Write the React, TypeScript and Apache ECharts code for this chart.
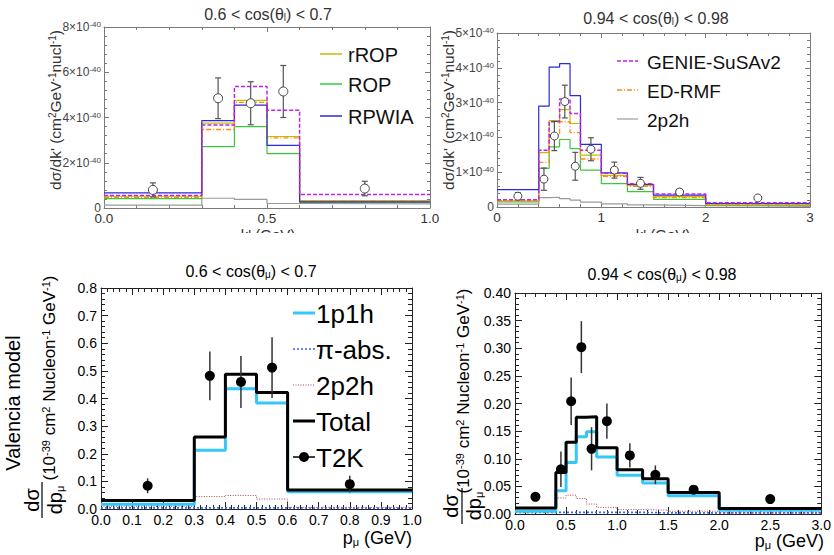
import { useEffect, useRef } from "react";
import * as echarts from "echarts";

// ---------- Top-left: 0.6 < cos(θl) < 0.7  (units of 1e-40 cm² GeV⁻¹ nucl⁻¹) ----------
const tlEdges = [0, 0.3, 0.4, 0.5, 0.6, 1.0];
const tlRROP = [0.52, 3.75, 4.76, 3.16, 0.33];
const tlROP = [0.41, 2.71, 3.6, 2.4, 0.25];
const tlRPWIA = [0.67, 3.86, 4.55, 2.77, 0.27];
const tlGENIE = [0.55, 3.67, 5.37, 4.32, 0.6];
const tlEDRMF = [0.47, 3.47, 4.67, 3.1, 0.31];
const tl2p2h = [0.13, 0.43, 0.38, 0.2, 0.18];
const tlDataX = [0.15, 0.35, 0.45, 0.55, 0.8];
const tlDataY = [0.8, 4.85, 4.63, 5.15, 0.86];
const tlDataErr = [0.31, 0.9, 0.95, 1.15, 0.32];
const tlXTicks = [0, 0.5, 1.0];
const tlYTicks = [0, 2, 4, 6, 8];

// ---------- Top-right: 0.94 < cos(θl) < 0.98 ----------
const trEdges = [0, 0.4, 0.5, 0.6, 0.7, 0.8, 1.0, 1.25, 1.5, 2.0, 3.0];
const trRPWIA = [0.5, 2.9, 4.02, 4.12, 3.2, 1.8, 0.98, 0.65, 0.34, 0.1];
const trGENIE = [0.21, 1.63, 2.45, 3.1, 2.69, 1.63, 0.97, 0.67, 0.37, 0.12];
const trRROP = [0.18, 1.56, 2.48, 2.8, 2.4, 1.49, 0.91, 0.62, 0.3, 0.08];
const trEDRMF = [0.17, 1.28, 2.07, 2.45, 2.14, 1.38, 0.88, 0.59, 0.27, 0.07];
const trROP = [0.15, 1.11, 1.73, 1.94, 1.68, 1.06, 0.67, 0.44, 0.22, 0.05];
const tr2p2h = [0.08, 0.27, 0.28, 0.24, 0.2, 0.14, 0.09, 0.06, 0.04, 0.02];
const trDataX = [0.2, 0.45, 0.55, 0.65, 0.75, 0.9, 1.125, 1.375, 1.75, 2.5];
const trDataY = [0.31, 0.8, 2.04, 3.03, 1.17, 1.66, 1.06, 0.68, 0.43, 0.26];
const trDataErr = [0.1, 0.32, 0.42, 0.47, 0.4, 0.33, 0.23, 0.17, 0.08, 0];
const trXTicks = [0, 1, 2, 3];
const trYTicks = [0, 1, 2, 3, 4, 5];

// ---------- Bottom-left: Valencia model, 0.6 < cos(θμ) < 0.7 (units 1e-39) ----------
const blEdges = [0, 0.3, 0.4, 0.5, 0.6, 1.0];
const bl1p1h = [0.017, 0.213, 0.435, 0.384, 0.062];
const blPiAbs = [0.004, 0.004, 0.004, 0.004, 0.003];
const bl2p2h = [0.01, 0.045, 0.049, 0.036, 0.006];
const blTotal = [0.031, 0.261, 0.488, 0.422, 0.069];
const blT2KX = [0.15, 0.35, 0.45, 0.55, 0.8];
const blT2KY = [0.084, 0.482, 0.46, 0.512, 0.09];
const blT2KErr = [0.027, 0.088, 0.094, 0.11, 0.03];
const blXTicks = [0, 0.1, 0.2, 0.3, 0.4, 0.5, 0.6, 0.7, 0.8, 0.9, 1.0];
const blYTicks = [0, 0.1, 0.2, 0.3, 0.4, 0.5, 0.6, 0.7, 0.8];

// ---------- Bottom-right: 0.94 < cos(θμ) < 0.98 ----------
const brEdges = [0, 0.4, 0.5, 0.6, 0.7, 0.8, 1.0, 1.25, 1.5, 2.0, 3.0];
const br1p1h = [0.005, 0.042, 0.093, 0.14, 0.149, 0.103, 0.07, 0.056, 0.033, 0.007];
const brPiAbs = [0.003, 0.003, 0.003, 0.003, 0.003, 0.003, 0.003, 0.002, 0.002, 0.002];
const br2p2h = [0.007, 0.029, 0.034, 0.028, 0.018, 0.012, 0.008, 0.007, 0.005, 0.002];
const brTotal = [0.011, 0.075, 0.13, 0.175, 0.176, 0.12, 0.08, 0.064, 0.039, 0.01];
const brT2KX = [0.2, 0.45, 0.55, 0.65, 0.75, 0.9, 1.125, 1.375, 1.75, 2.5];
const brT2KY = [0.031, 0.081, 0.204, 0.302, 0.118, 0.168, 0.106, 0.071, 0.044, 0.027];
const brT2KErr = [0.007, 0.032, 0.043, 0.047, 0.039, 0.032, 0.022, 0.017, 0.006, 0];
const brXTicks = [0, 0.5, 1.0, 1.5, 2.0, 2.5, 3.0];
const brYTicks = [0, 0.05, 0.1, 0.15, 0.2, 0.25, 0.3, 0.35, 0.4];

const FONT = "'Liberation Sans', Arial, Helvetica, sans-serif";

const C = {
  rrop: "#c8bc00",
  rop: "#3cc83c",
  rpwia: "#2a2ad8",
  genie: "#c020f0",
  edrmf: "#ff8a10",
  gray: "#9a9a9a",
  cyan: "#33c8f8",
  piabs: "#3366ff",
  brown: "#a84848",
};

function stepPts(edges: number[], vals: number[]) {
  const pts = edges.slice(0, -1).map((e, i) => [e, vals[i]]);
  pts.push([edges[edges.length - 1], vals[vals.length - 1]]);
  return pts;
}

function hist(g: number, name: string, edges: number[], vals: number[], color: string, width: number, type: any, z = 3) {
  return {
    type: "line",
    name,
    xAxisIndex: 2 * g,
    yAxisIndex: 2 * g,
    step: "end",
    data: stepPts(edges, vals),
    symbol: "none",
    showSymbol: false,
    lineStyle: { color, width, type },
    z,
    silent: true,
  };
}

function errBars(g: number, xs: number[], ys: number[], es: number[], color: string, width: number, cap: number) {
  return {
    type: "custom",
    xAxisIndex: 2 * g,
    yAxisIndex: 2 * g,
    data: xs.map((x, i) => [x, ys[i], es[i]]),
    encode: { x: 0, y: 1 },
    renderItem: (_p: any, api: any) => {
      const x = api.value(0), y = api.value(1), e = api.value(2);
      if (!e) return { type: "group", children: [] };
      const lo = api.coord([x, y - e]);
      const hi = api.coord([x, y + e]);
      const style = { stroke: color, lineWidth: width };
      const children: any[] = [
        { type: "line", shape: { x1: lo[0], y1: lo[1], x2: hi[0], y2: hi[1] }, style },
      ];
      if (cap) {
        children.push({ type: "line", shape: { x1: lo[0] - cap, y1: lo[1], x2: lo[0] + cap, y2: lo[1] }, style });
        children.push({ type: "line", shape: { x1: hi[0] - cap, y1: hi[1], x2: hi[0] + cap, y2: hi[1] }, style });
      }
      return { type: "group", children };
    },
    z: 6,
    silent: true,
  };
}

function points(g: number, name: string, xs: number[], ys: number[], size: number, border: string, fill: string, bw: number) {
  return {
    type: "scatter",
    name,
    xAxisIndex: 2 * g,
    yAxisIndex: 2 * g,
    data: xs.map((x, i) => [x, ys[i]]),
    symbol: "circle",
    symbolSize: size,
    itemStyle: { color: fill, borderColor: border, borderWidth: bw, opacity: 1 },
    z: 7,
    silent: true,
  };
}

type AxCfg = {
  ticks: number[];
  fmt: (v: number) => string;
  fontSize: number;
  color: string;
  line: string;
  tick: number;
  minor: number;
  split: number;
  margin: number;
  rich?: any;
};

function axisPair(g: number, dim: "x" | "y", c: AxCfg) {
  const min = c.ticks[0];
  const max = c.ticks[c.ticks.length - 1];
  const interval = c.ticks[1] - c.ticks[0];
  const base = {
    type: "value",
    gridIndex: g,
    min,
    max,
    interval,
    axisLine: { show: true, onZero: false, lineStyle: { color: c.line, width: 1 } },
    axisTick: { show: true, inside: true, length: c.tick, lineStyle: { color: c.line, width: 1 } },
    minorTick: { show: true, splitNumber: c.split, length: c.minor, lineStyle: { color: c.line, width: 1 } },
    splitLine: { show: false },
    minorSplitLine: { show: false },
  };
  const main = {
    ...base,
    position: dim === "x" ? "bottom" : "left",
    axisLabel: {
      show: true,
      formatter: c.fmt,
      fontSize: c.fontSize,
      color: c.color,
      fontFamily: FONT,
      margin: c.margin,
      showMinLabel: true,
      showMaxLabel: true,
      hideOverlap: false,
      rich: c.rich,
    },
  };
  const mirror = { ...base, position: dim === "x" ? "top" : "right", axisLabel: { show: false } };
  return [main, mirror];
}

const supRichTop = {
  s: { fontSize: 8, verticalAlign: "top", fontFamily: FONT, color: "#444", padding: [0, 0, 5, 0] },
};

function txt(x: number, y: number, text: string, fontSize: number, o: any = {}) {
  return {
    type: "text",
    x,
    y,
    rotation: o.rot || 0,
    z: 100,
    silent: true,
    style: {
      text,
      fill: o.color || "#000",
      fontSize,
      fontFamily: FONT,
      align: o.align || "center",
      verticalAlign: o.va || "middle",
      rich: o.rich,
    },
  };
}

function seg(x1: number, y1: number, x2: number, y2: number, stroke: string, lineWidth: number, lineDash?: number[]) {
  return {
    type: "line",
    z: 100,
    silent: true,
    shape: { x1, y1, x2, y2 },
    style: { stroke, lineWidth, lineDash },
  };
}

export default function App() {
  const ref = useRef<HTMLDivElement>(null);
  useEffect(() => {
    if (!ref.current) return;
    const chart = echarts.init(ref.current, undefined, { renderer: "svg" });

    const grids = [
      { left: 104, top: 27, width: 326, height: 181 },
      { left: 497, top: 33, width: 313, height: 174 },
      { left: 101, top: 288, width: 311, height: 221 },
      { left: 515, top: 293, width: 309, height: 221 },
    ];

    const topYFmt = (v: number) => (v === 0 ? "0" : `${v}×10{s|-40}`);
    const topLine = "#7a7a7a";
    const botLine = "#222";

    const xAxes = [
      ...axisPair(0, "x", { ticks: tlXTicks, fmt: (v) => v.toFixed(1), fontSize: 13.5, color: "#333", line: topLine, tick: 5, minor: 3, split: 5, margin: 3 }),
      ...axisPair(1, "x", { ticks: trXTicks, fmt: (v) => String(v), fontSize: 13.5, color: "#333", line: topLine, tick: 5, minor: 3, split: 5, margin: 3 }),
      ...axisPair(2, "x", { ticks: blXTicks, fmt: (v) => v.toFixed(1), fontSize: 14, color: "#000", line: botLine, tick: 7, minor: 4, split: 5, margin: 4 }),
      ...axisPair(3, "x", { ticks: brXTicks, fmt: (v) => v.toFixed(1), fontSize: 14, color: "#000", line: botLine, tick: 7, minor: 4, split: 5, margin: 4 }),
    ];
    const yAxes = [
      ...axisPair(0, "y", { ticks: tlYTicks, fmt: topYFmt, fontSize: 12, color: "#444", line: topLine, tick: 5, minor: 3, split: 5, margin: 3, rich: supRichTop }),
      ...axisPair(1, "y", { ticks: trYTicks, fmt: topYFmt, fontSize: 12, color: "#444", line: topLine, tick: 5, minor: 3, split: 5, margin: 3, rich: supRichTop }),
      ...axisPair(2, "y", { ticks: blYTicks, fmt: (v) => v.toFixed(1), fontSize: 14, color: "#000", line: botLine, tick: 7, minor: 4, split: 5, margin: 4 }),
      ...axisPair(3, "y", { ticks: brYTicks, fmt: (v) => v.toFixed(2), fontSize: 14, color: "#000", line: botLine, tick: 7, minor: 4, split: 5, margin: 4 }),
    ];

    const series: any[] = [
      // top-left
      hist(0, "2p2h (TL)", tlEdges, tl2p2h, C.gray, 1.2, "solid"),
      hist(0, "ROP (TL)", tlEdges, tlROP, C.rop, 1.2, "solid"),
      hist(0, "rROP (TL)", tlEdges, tlRROP, C.rrop, 1.2, "solid"),
      hist(0, "ED-RMF (TL)", tlEdges, tlEDRMF, C.edrmf, 1.3, [5, 2, 1, 2]),
      hist(0, "RPWIA (TL)", tlEdges, tlRPWIA, C.rpwia, 1.2, "solid"),
      hist(0, "GENIE-SuSAv2 (TL)", tlEdges, tlGENIE, C.genie, 1.5, [4, 2]),
      errBars(0, tlDataX, tlDataY, tlDataErr, "#555", 1.2, 3),
      points(0, "data (TL)", tlDataX, tlDataY, 9, "#444", "#fff", 1),
      // top-right
      hist(1, "2p2h (TR)", trEdges, tr2p2h, C.gray, 1.2, "solid"),
      hist(1, "ROP (TR)", trEdges, trROP, C.rop, 1.2, "solid"),
      hist(1, "rROP (TR)", trEdges, trRROP, C.rrop, 1.2, "solid"),
      hist(1, "ED-RMF (TR)", trEdges, trEDRMF, C.edrmf, 1.3, [5, 2, 1, 2]),
      hist(1, "RPWIA (TR)", trEdges, trRPWIA, C.rpwia, 1.2, "solid"),
      hist(1, "GENIE-SuSAv2 (TR)", trEdges, trGENIE, C.genie, 1.5, [4, 2]),
      errBars(1, trDataX, trDataY, trDataErr, "#555", 1.2, 3),
      points(1, "data (TR)", trDataX, trDataY, 8, "#444", "#fff", 1),
      // bottom-left
      hist(2, "π-abs. (BL)", blEdges, blPiAbs, C.piabs, 1.6, [2, 2]),
      hist(2, "2p2h (BL)", blEdges, bl2p2h, C.brown, 1, [1, 1.5]),
      hist(2, "1p1h (BL)", blEdges, bl1p1h, C.cyan, 3),
      hist(2, "Total (BL)", blEdges, blTotal, "#000", 3, "solid", 4),
      errBars(2, blT2KX, blT2KY, blT2KErr, "#333", 1.5, 0),
      points(2, "T2K (BL)", blT2KX, blT2KY, 10, "#000", "#000", 0),
      // bottom-right
      hist(3, "π-abs. (BR)", brEdges, brPiAbs, C.piabs, 1.6, [2, 2]),
      hist(3, "2p2h (BR)", brEdges, br2p2h, C.brown, 1, [1, 1.5]),
      hist(3, "1p1h (BR)", brEdges, br1p1h, C.cyan, 3),
      hist(3, "Total (BR)", brEdges, brTotal, "#000", 3, "solid", 4),
      errBars(3, brT2KX, brT2KY, brT2KErr, "#333", 1.5, 0),
      points(3, "T2K (BR)", brT2KX, brT2KY, 10, "#000", "#000", 0),
    ];

    const subTop = { s: { fontSize: 10, verticalAlign: "bottom", fontFamily: FONT, fill: "#333", padding: [6, 0, 0, 0] } };
    const subBot = { s: { fontSize: 10, verticalAlign: "bottom", fontFamily: FONT, fill: "#000", padding: [6, 0, 0, 0] } };
    const supTopTitle = { u: { fontSize: 10, verticalAlign: "top", fontFamily: FONT, fill: "#333", padding: [0, 0, 6, 0] } };
    const supBot = { u: { fontSize: 11, verticalAlign: "top", fontFamily: FONT, fill: "#000", padding: [0, 0, 6, 0] } };
    const subPmu = { s: { fontSize: 11, verticalAlign: "bottom", fontFamily: FONT, fill: "#000", padding: [7, 0, 0, 0] } };
    const R = Math.PI / 2;

    const graphic: any[] = [
      // titles
      txt(268, 14, "0.6 < cos(θ{s|l}) < 0.7", 16, { color: "#333", rich: subTop }),
      txt(656, 18, "0.94 < cos(θ{s|l}) < 0.98", 16, { color: "#333", rich: subTop }),
      txt(251, 271, "0.6 < cos(θ{s|μ}) < 0.7", 16, { rich: subBot }),
      txt(662, 274, "0.94 < cos(θ{s|μ}) < 0.98", 16, { rich: subBot }),
      // top axis names (cropped at the bottom like the reference)
      txt(268, 234, "k' (GeV)", 15, { color: "#333" }),
      txt(663, 234, "k' (GeV)", 15, { color: "#333" }),
      { type: "rect", z: 101, silent: true, shape: { x: 0, y: 233, width: 834, height: 26 }, style: { fill: "#fff" } },
      txt(55, 110, "dσ/dk' (cm{u|2}GeV{u|-1}nucl{u|-1})", 15.5, { color: "#333", rot: R, rich: supTopTitle }),
      txt(448, 110, "dσ/dk' (cm{u|2}GeV{u|-1}nucl{u|-1})", 15.5, { color: "#333", rot: R, rich: supTopTitle }),
      // top-left legend
      seg(320, 54, 342, 54, C.rrop, 1.5),
      txt(348, 55, "rROP", 20, { align: "left", color: "#111" }),
      seg(320, 84, 342, 84, C.rop, 1.5),
      txt(348, 85, "ROP", 20, { align: "left", color: "#111" }),
      seg(320, 116, 342, 116, C.rpwia, 1.5),
      txt(348, 117, "RPWIA", 20, { align: "left", color: "#111" }),
      // top-right legend
      seg(617, 61, 638, 61, C.genie, 1.5, [4, 2]),
      txt(647, 62, "GENIE-SuSAv2", 19, { align: "left", color: "#111" }),
      seg(617, 90, 638, 90, C.edrmf, 1.5, [5, 2, 1, 2]),
      txt(647, 91, "ED-RMF", 19, { align: "left", color: "#111" }),
      seg(617, 119, 638, 119, C.gray, 1.2),
      txt(647, 120, "2p2h", 19, { align: "left", color: "#111" }),
      // bottom-left legend
      seg(293, 313, 315, 313, C.cyan, 3),
      txt(316, 314, "1p1h", 26, { align: "left" }),
      seg(293, 349, 315, 349, C.piabs, 1.6, [2, 2]),
      txt(316, 350, "π-abs.", 26, { align: "left" }),
      seg(293, 385, 315, 385, C.brown, 1, [1, 1.5]),
      txt(316, 386, "2p2h", 26, { align: "left" }),
      seg(293, 421, 315, 421, "#000", 3),
      txt(316, 422, "Total", 26, { align: "left" }),
      seg(293, 457, 315, 457, "#000", 1.5),
      { type: "circle", z: 100, silent: true, shape: { cx: 304, cy: 457, r: 5 }, style: { fill: "#000" } },
      txt(316, 458, "T2K", 26, { align: "left" }),
      // bottom axis names
      txt(412, 538, "p{s|μ} (GeV)", 18, { align: "right", rich: subPmu }),
      txt(824, 541, "p{s|μ} (GeV)", 18, { align: "right", rich: subPmu }),
      txt(13, 403, "Valencia model", 20, { rot: R }),
      txt(49, 378, "(10{u|-39} cm{u|2} Nucleon{u|-1} GeV{u|-1})", 17, { rot: R, rich: supBot }),
      txt(463, 391, "(10{u|-39} cm{u|2} Nucleon{u|-1} GeV{u|-1})", 17, { rot: R, rich: supBot }),
      // dσ/dpμ fractions
      txt(32, 500, "dσ", 20, { rot: R }),
      seg(42, 482, 42, 518, "#000", 1.2),
      txt(55, 500, "dp{s|μ}", 20, { rot: R, rich: subPmu }),
      txt(451, 506, "dσ", 20, { rot: R }),
      seg(462, 488, 462, 524, "#000", 1.2),
      txt(474, 506, "dp{s|μ}", 20, { rot: R, rich: subPmu }),
    ];

    chart.setOption({
      animation: false,
      backgroundColor: "#fff",
      textStyle: { fontFamily: FONT },
      grid: grids,
      xAxis: xAxes,
      yAxis: yAxes,
      series,
      graphic,
    });
    return () => chart.dispose();
  }, []);

  return <div ref={ref} style={{ position: "fixed", left: 0, top: 0, width: 834, height: 555 }} />;
}
